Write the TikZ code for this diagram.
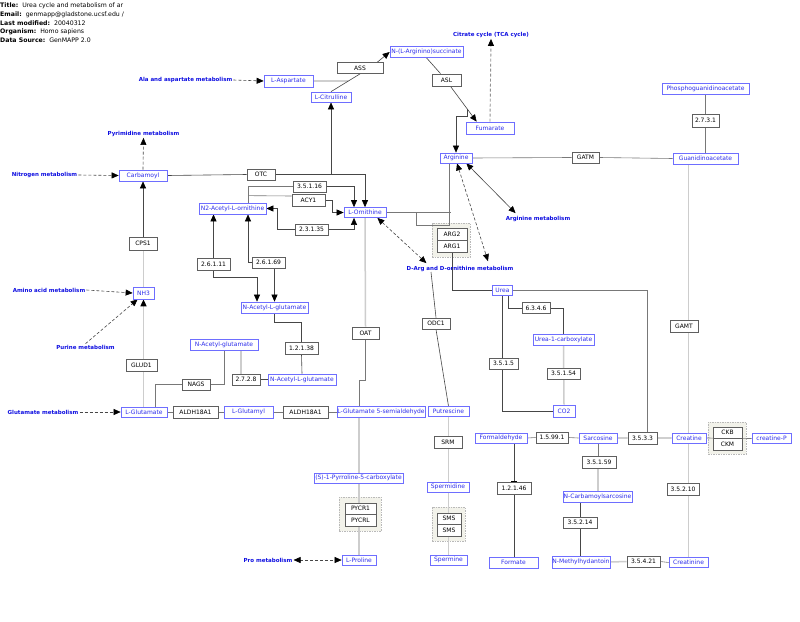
\documentclass[tikz,border=0pt]{standalone}
\usepackage{fontspec}
\setmainfont{DejaVu Sans}
\usetikzlibrary{arrows.meta,backgrounds,calc}
\definecolor{metb}{RGB}{110,110,255}
\definecolor{mett}{RGB}{45,45,235}
\definecolor{lblc}{RGB}{15,15,225}
\definecolor{geneb}{RGB}{95,95,95}
\definecolor{grpf}{RGB}{242,242,234}
\definecolor{lnd}{RGB}{70,70,70}
\definecolor{lnm}{RGB}{120,120,120}
\definecolor{lnl}{RGB}{205,205,205}
\tikzset{
 txtbase/.style={font=\fontsize{6}{7}\selectfont, inner sep=0pt, align=center},
 sz/.style 2 args={minimum width=#1, minimum height=#2},
 met/.style={txtbase, draw=metb, text=mett, fill=white, line width=0.7pt},
 gene/.style={txtbase, draw=geneb, text=black, fill=white, line width=0.8pt},
 lbl/.style={font=\fontsize{5.5}{6}\selectfont\bfseries, text=lblc, inner sep=1pt},
 hdr/.style={font=\fontsize{6.2}{7}\selectfont, anchor=west, inner sep=0pt},
 grp/.style={draw=gray!55, dash pattern=on 1.5pt off 1pt, fill=grpf, line width=0.6pt},
 dk/.style={draw=lnd, line width=0.6pt},
 md/.style={draw=lnm, line width=0.6pt},
 lt/.style={draw=lnl, line width=1.5pt},
 dsh/.style={dash pattern=on 3pt off 2pt},
 arr/.style={-{Triangle[length=7pt,width=6pt,color=black]}},
 darr/.style={{Triangle[length=7pt,width=6pt,color=black]}-{Triangle[length=7pt,width=6pt,color=black]}},
 barr/.style={-{Bar[width=6pt,color=black]}},
}
\begin{document}
\begin{tikzpicture}[x=1pt,y=-1pt]
\useasboundingbox (0,0) rectangle (800,621);

% header
\node[hdr] (h1) at (0,6) {\textbf{Title:}\ \ Urea cycle and metabolism of ar};
\node[hdr] (h2) at (0,14.5) {\textbf{Email:}\ \ genmapp@gladstone.ucsf.edu /};
\node[hdr] (h3) at (0,23) {\textbf{Last modified:}\ \ 20040312};
\node[hdr] (h4) at (0,31.5) {\textbf{Organism:}\ \ Homo sapiens};
\node[hdr] (h5) at (0,40) {\textbf{Data Source:}\ \ GenMAPP 2.0};

% metabolites
\node[met, sz={73}{11}] (argsucc) at (426.5,52) {N-(L-Arginino)succinate};
\node[met, sz={49}{12}] (asp) at (288.5,81) {L-Aspartate};
\node[met, sz={40}{10}] (cit) at (331,97) {L-Citrulline};
\node[met, sz={48}{12}] (fum) at (490,128) {Fumarate};
\node[met, sz={32}{10}] (arg) at (456,158) {Arginine};
\node[met, sz={65}{11}] (guan) at (705.5,158.5) {Guanidinoacetate};
\node[met, sz={87}{11}] (pguan) at (705.5,88.5) {Phosphoguanidinoacetate};
\node[met, sz={48}{11}] (carb) at (143,175.5) {Carbamoyl};
\node[met, sz={42}{10}] (orn) at (365,212.5) {L-Ornithine};
\node[met, sz={67}{11}] (n2ac) at (232.5,208.5) {N2-Acetyl-L-ornithine};
\node[met, sz={67}{11}] (nalg1) at (274.5,307.5) {N-Acetyl-L-glutamate};
\node[met, sz={68}{11}] (nalg2) at (302,379.5) {N-Acetyl-L-glutamate};
\node[met, sz={68}{11}] (nag) at (224,344.5) {N-Acetyl-glutamate};
\node[met, sz={21}{12}] (nh3) at (143.5,293) {NH3};
\node[met, sz={46}{10}] (glu) at (144,412) {L-Glutamate};
\node[met, sz={49}{12}] (glum) at (248.5,412) {L-Glutamyl};
\node[met, sz={88}{11}] (g5sa) at (381,412) {L-Glutamate 5-semialdehyde};
\node[met, sz={89}{10}] (p5c) at (358.5,478) {(S)-1-Pyrroline-5-carboxylate};
\node[met, sz={34}{10}] (pro) at (359,560) {L-Proline};
\node[met, sz={41}{10}] (put) at (448.5,411.5) {Putrescine};
\node[met, sz={42}{10}] (spd) at (448,487) {Spermidine};
\node[met, sz={37}{10}] (spm) at (448.5,560) {Spermine};
\node[met, sz={20}{10}] (urea) at (502.5,290) {Urea};
\node[met, sz={61}{11}] (u1c) at (563.5,339.5) {Urea-1-carboxylate};
\node[met, sz={22}{12}] (co2) at (564,411) {CO2};
\node[met, sz={52}{10}] (form) at (501,438) {Formaldehyde};
\node[met, sz={38}{10}] (sarc) at (598,438) {Sarcosine};
\node[met, sz={34}{10}] (crea) at (689,438) {Creatine};
\node[met, sz={39}{10}] (creap) at (771.5,438.5) {creatine-P};
\node[met, sz={49}{11}] (formate) at (513.5,562.5) {Formate};
\node[met, sz={69}{11}] (ncs) at (597.5,496.5) {N-Carbamoylsarcosine};
\node[met, sz={58}{12}] (nmh) at (581,562) {N-Methylhydantoin};
\node[met, sz={39}{10}] (crn) at (688.5,562.5) {Creatinine};

% genes
\node[gene, sz={46}{11}] (ass) at (360,68) {ASS};
\node[gene, sz={29}{12}] (asl) at (446.5,80) {ASL};
\node[gene, sz={27}{11}] (gatm) at (585.5,157.5) {GATM};
\node[gene, sz={27}{13}] (g2731) at (705.5,120.5) {2.7.3.1};
\node[gene, sz={28}{11}] (otc) at (261,174.5) {OTC};
\node[gene, sz={33}{11}] (g35116) at (309.5,186.5) {3.5.1.16};
\node[gene, sz={33}{12}] (acy1) at (308.5,200) {ACY1};
\node[gene, sz={33}{11}] (g23135) at (311.5,229.5) {2.3.1.35};
\node[gene, sz={33}{12}] (g26111) at (213.5,264) {2.6.1.11};
\node[gene, sz={33}{11}] (g26169) at (268.5,262.5) {2.6.1.69};
\node[gene, sz={33}{12}] (g12138) at (301.5,348) {1.2.1.38};
\node[gene, sz={28}{11}] (g2728) at (246,379.5) {2.7.2.8};
\node[gene, sz={28}{11}] (nags) at (196,384.5) {NAGS};
\node[gene, sz={28}{13}] (cps1) at (143,243.5) {CPS1};
\node[gene, sz={31}{12}] (glud1) at (141.5,365) {GLUD1};
\node[gene, sz={45}{12}] (aldh1) at (195.5,412) {ALDH18A1};
\node[gene, sz={45}{12}] (aldh2) at (305.5,412) {ALDH18A1};
\node[gene, sz={27}{12}] (oat) at (365.5,333) {OAT};
\node[gene, sz={31}{11}] (pycr1) at (360.5,508.5) {PYCR1};
\node[gene, sz={31}{12}] (pycrl) at (360.5,520) {PYCRL};
\node[gene, sz={28}{11}] (odc1) at (436,323.5) {ODC1};
\node[gene, sz={30}{12}] (arg2) at (452,234) {ARG2};
\node[gene, sz={30}{12}] (arg1) at (452,246) {ARG1};
\node[gene, sz={28}{12}] (srm) at (448,442) {SRM};
\node[gene, sz={24}{11}] (sms1) at (449,518.5) {SMS};
\node[gene, sz={24}{12}] (sms2) at (449,530) {SMS};
\node[gene, sz={28}{11}] (g6346) at (536,308) {6.3.4.6};
\node[gene, sz={33}{11}] (g35154) at (563.5,373.5) {3.5.1.54};
\node[gene, sz={29}{11}] (g3515) at (503.5,363.5) {3.5.1.5};
\node[gene, sz={32}{11}] (g15991) at (552,437.5) {1.5.99.1};
\node[gene, sz={29}{12}] (g3533) at (642.5,438) {3.5.3.3};
\node[gene, sz={29}{11}] (ckb) at (727.5,432.5) {CKB};
\node[gene, sz={29}{12}] (ckm) at (727.5,444) {CKM};
\node[gene, sz={34}{12}] (g12146) at (514,488) {1.2.1.46};
\node[gene, sz={34}{12}] (g35159) at (599,462) {3.5.1.59};
\node[gene, sz={34}{11}] (g35214) at (580,522.5) {3.5.2.14};
\node[gene, sz={33}{11}] (g35421) at (643.5,561.5) {3.5.4.21};
\node[gene, sz={32}{12}] (g35210) at (683,489) {3.5.2.10};
\node[gene, sz={28}{12}] (gamt) at (684,326) {GAMT};

% labels
\node[lbl] (lala) at (185.5,80) {Ala and aspartate metabolism};
\node[lbl] (ltca) at (491,35) {Citrate cycle (TCA cycle)};
\node[lbl] (lpyr) at (143.5,134) {Pyrimidine metabolism};
\node[lbl] (lnit) at (44.5,175) {Nitrogen metabolism};
\node[lbl] (lamino) at (49,290) {Amino acid metabolism};
\node[lbl] (lpur) at (85.5,347) {Purine metabolism};
\node[lbl] (lglu) at (43,412) {Glutamate metabolism};
\node[lbl] (lpro) at (268,560) {Pro metabolism};
\node[lbl] (ldarg) at (460,269) {D-Arg and D-ornithine metabolism};
\node[lbl] (larg) at (538,219) {Arginine metabolism};

\begin{pgfonlayer}{background}
\fill[white] (0,0) rectangle (800,621);
% groups
\node[grp, sz={38}{34}] (argg) at (451,240) {};
\node[grp, sz={42}{34}] (pycrg) at (360,514) {};
\node[grp, sz={33}{34}] (smsg) at (448.5,524) {};
\node[grp, sz={38}{32}] (ckg) at (727,438) {};

% urea cycle top
\draw[dk, dsh, arr] (lala.east) -- (asp.west);
\draw[md] (asp.east) -- ($(cit.north)!0.6!(ass.south)$);
\draw[dk] (cit.north) -- (ass.south);
\draw[dk, arr] ($(ass.north east)+(-6,0)$) -- (argsucc.west);
\draw[dk] (argsucc.south) -- ($(asl.north)+(-6,0)$);
\draw[dk, arr] ($(asl.south)+(4,0)$) coordinate (a1) -- ($(fum.north west)+(11,0)$) coordinate (a2);
\draw[dk, arr] ($(a1)!0.64!(a2)$) -- ++(0,7) -| (arg.north);
\draw[lnm!80, line width=0.9pt, dsh, arr] (fum.north) -- (ltca.south);
\draw[md] (arg.east) -- (gatm.west) (gatm.east) -- (guan.west);
\draw[md] (pguan.south) -- (g2731.north) (g2731.south) -- (guan.north);
\draw[lt] (guan.south -| crn.north) -- (crn.north);

% carbamoyl / ornithine
\draw[dk, dsh, arr] (carb.north) -- (lpyr.south);
\draw[dk, dsh, arr] (lnit.east) -- (carb.west);
\draw[dk] (carb.east) -- (otc.west);
\draw[dk, arr] (otc.east) -| (orn.north);
\draw[dk, arr] (cit.south |- otc.east) -- (cit.south);
\coordinate (n2t) at ($(n2ac.north)+(15.5,0)$);
\draw[md] (n2t) |- (g35116.west);
\draw[md] ($(n2t)+(0,-7)$) -- ($(acy1.west)+(0,-4)$);
\draw[dk, arr] (g35116.east) -| ($(orn.north)+(-11,0)$);
\draw[dk, arr] (acy1.east) -- ++(7,0) |- (orn.west);
\draw[dk, arr] (g23135.west) -| ($(n2ac.east)+(11,0)$) -- (n2ac.east);
\draw[dk, arr] (g23135.east) -| ($(orn.south)+(-11,0)$);
\draw[dk, arr] (g26111.north) -- (g26111.north |- n2ac.south);
\draw[dk, arr] (g26111.south) -- ++(0,7) -| ($(nalg1.north)+(-17.5,0)$);
\draw[dk, arr] (g26169.west) -| ($(n2ac.south)+(15.5,0)$);
\draw[dk, arr] (nalg1.north |- g26169.south) -- (nalg1.north);
\draw[dk] (nalg1.south) -- ++(0,9) -| (g12138.north);
\draw[dk] (g12138.south) -- (nalg2.north);
\draw[lt] ($(nag.south)+(17,0)$) -- ($(g2728.north)+(-5,0)$);
\draw[dk] (g2728.east) -- (nalg2.west);
\draw[md, line width=0.9pt] (nag.south) |- (nags.east);
\draw[md, line width=0.9pt] (nags.west) -| ($(glu.north)+(11,0)$);

% nh3 / glutamate
\draw[dk, dsh, arr] (lamino.east) -- (nh3.west);
\draw[dk, dsh, arr] (lpur.north) -- ($(nh3.south west)+(5,0)$);
\draw[lt] (nh3.north) -- (nh3.north |- cps1.south);
\draw[dk, arr] (cps1.north) -- (cps1.north |- carb.south);
\draw[lt] (nh3.south |- glu.north) -- (nh3.south |- glud1.south);
\draw[lt, arr] (nh3.south |- glud1.north) -- (nh3.south);
\draw[dk, dsh, arr] (lglu.east) -- (glu.west);
\draw[md] (glu.east) -- (aldh1.west) (aldh1.east) -- (glum.west) (glum.east) -- (aldh2.west) (aldh2.east) -- (g5sa.west);

% ornithine -> proline
\draw[lt] (orn.south) -- (oat.north);
\draw[lt] (g5sa.south -| pro.north) -- (pro.north);
\draw[md, line width=0.9pt] (oat.south) -- ++(0,41) -| (pro.north |- g5sa.north);
\draw[dk, dsh, darr] (lpro.east) -- (pro.west);

% putrescine branch
\draw[lt] (put.south) -- (spm.north);
\coordinate (odt) at (431,272);
\draw[dk] (odt) -- (odc1.north);
\draw[dk] (odc1.south) -- (put.north);

% arginine region
\draw[dk, dsh, darr] ($(orn.south east)+(-9,0)$) -- ($(ldarg.north west)+(21,-2)$);
\draw[dk, dsh, darr] ($(arg.south)+(1,0)$) -- ($(ldarg.north)+(28,-4)$);
\draw[dk, darr] ($(arg.south east)+(-6,0)$) -- ($(larg.north west)+(11,-2)$);
\draw[md] (orn.east) -- ++(65,0);
\draw[md] ($(arg.south)+(-7,0)$) -- ++(0,62) -- ++(-33,0) -- ++(0,-12.5);
\draw[dk] (arg1.south) |- (urea.west);

% urea
\draw[md] (urea.east) -| ($(g3533.north)+(4.5,0)$);
\draw[dk] (urea.south) |- (co2.west);
\draw[dk] ($(urea.south)+(5.5,0)$) |- (g6346.west);
\draw[dk] (g6346.east) -| (u1c.north);
\draw[lt] (u1c.south) -- (co2.north);

% creatine row
\draw[md] (form.east) -- (g15991.west) (g15991.east) -- (sarc.west) (sarc.east) -- (g3533.west) (g3533.east) -- (crea.west) (crea.east) -- (creap.west);
\draw[dk, barr] (g12146.north |- form.south) -- (g12146.north);
\draw[dk] (g12146.south) -- (g12146.south |- formate.north);
\draw[md] (sarc.south) -- (sarc.south |- g35159.north);
\draw[lt] (sarc.south |- g35159.south) -- (sarc.south |- ncs.north);
\draw[dk] (g35214.north |- ncs.south) -- (g35214.north);
\draw[dk] (g35214.south) -- (g35214.south |- nmh.north);
\draw[lt] (nmh.east) -- (g35421.west);
\draw[md] (g35421.east) -- (crn.west);
\end{pgfonlayer}
\end{tikzpicture}
\end{document}
